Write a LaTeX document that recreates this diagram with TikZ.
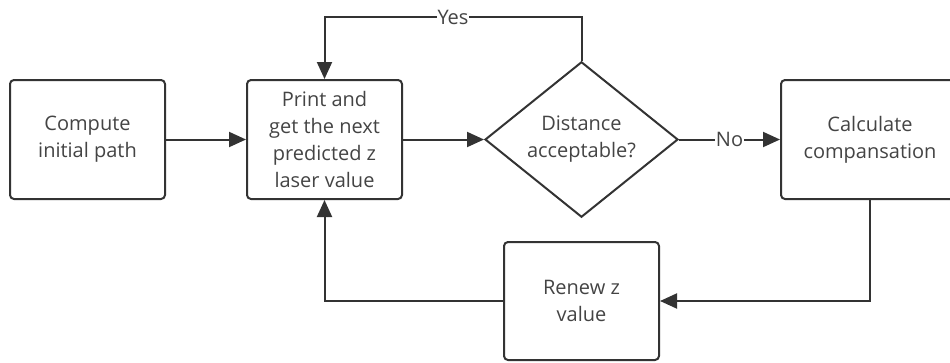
\documentclass[tikz,border=0pt]{standalone}
\usepackage{fontspec}
\setmainfont{Open Sans}
\usetikzlibrary{shapes.geometric,arrows.meta}
\definecolor{ink}{HTML}{333333}
\definecolor{txt}{HTML}{444444}
\tikzset{
  box/.style={draw=ink, line width=2pt, rounded corners=4pt, minimum width=155pt, minimum height=119pt, inner sep=0pt, align=center, text=txt, font=\fontsize{20}{27}\selectfont},
  dia/.style={draw=ink, line width=2pt, diamond, minimum width=193pt, minimum height=145pt, inner sep=0pt, align=center, text=txt, font=\fontsize{20}{27}\selectfont},
  conn/.style={draw=ink, line width=2pt, -{Triangle[length=17pt,width=15pt]}},
  lbl/.style={fill=white, inner sep=1pt, text=txt, font=\fontsize{20}{22}\selectfont}
}
\begin{document}
\begin{tikzpicture}[x=1pt,y=-1pt]
\useasboundingbox (0,0) rectangle (950,362);
\node[box] (compute) at (87.5,139.5) {Compute\\initial path};
\node[box] (print) at (324.5,139.5) {Print and\\get the next\\predicted z\\laser value};
\node[dia] (dist) at (581.5,139.5) {Distance\\acceptable?};
\node[box, minimum width=178pt] (calc) at (870,139.5) {Calculate\\compansation};
\node[box, minimum height=118pt] (renew) at (581.5,301) {Renew z\\value};
\coordinate (ytop) at (581.5,17);
\coordinate (yleft) at (324.5,17);
\coordinate (cb) at (870,301);
\coordinate (rl) at (324.5,301);
\draw[conn] (compute.east) -- (print.west);
\draw[conn] (print.east) -- (dist.west);
\draw[conn] (dist.east) -- node[lbl, pos=0.5] {No} (calc.west);
\draw[conn] (dist.north) -- (ytop) -- node[lbl, pos=0.5] {Yes} (yleft) -- (print.north);
\draw[conn] (calc.south) -- (cb) -- (renew.east);
\draw[conn] (renew.west) -- (rl) -- (print.south);
\end{tikzpicture}
\end{document}
